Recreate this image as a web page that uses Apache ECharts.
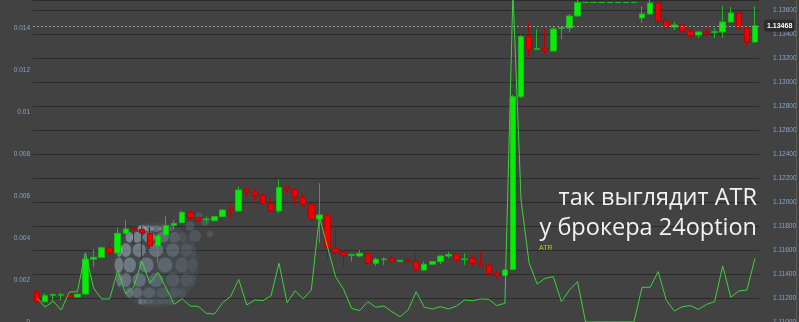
<!DOCTYPE html>
<html>
<head>
<meta charset="utf-8">
<script src="https://cdn.jsdelivr.net/npm/echarts@6/dist/echarts.min.js"></script>
<style>
html,body{margin:0;padding:0;background:#424242;overflow:hidden;}
#c{width:799px;height:322px;}
</style>
</head>
<body>
<div id="c"></div>
<script>
// ---- data ----
const categories = Array.from({length: 90}, (_, i) => String(i + 1));

const opens = [
1.11244, 1.11169, 1.11223, 1.11224, 1.11225, 1.11208, 1.11233, 1.11523, 1.11539, 1.11619,
1.11575, 1.11739, 1.11781, 1.11772, 1.11739, 1.11633, 1.11725, 1.11806, 1.11828, 1.11914,
1.11869, 1.11853, 1.11844, 1.11878, 1.11936, 1.11925, 1.12100, 1.12083, 1.12056, 1.11983,
1.11925, 1.12122, 1.12106, 1.12039, 1.11978, 1.11858, 1.11892, 1.11614, 1.11578, 1.11556,
1.11550, 1.11572, 1.11489, 1.11520, 1.11531, 1.11503, 1.11517, 1.11503, 1.11433, 1.11481,
1.11503, 1.11550, 1.11564, 1.11520, 1.11531, 1.11489, 1.11475, 1.11406, 1.11389, 1.11438,
1.12877, 1.13378, 1.13272, 1.13281, 1.13258, 1.13447, 1.13450, 1.13550, 1.13662, 1.13662,
1.13662, 1.13662, 1.13662, 1.13662, 1.13662, 1.13533, 1.13567, 1.13658, 1.13508, 1.13458,
1.13475, 1.13425, 1.13392, 1.13417, 1.13414, 1.13417, 1.13500, 1.13575, 1.13450, 1.13333
];
const closes = [
1.11169, 1.11219, 1.11228, 1.11227, 1.11206, 1.11231, 1.11523, 1.11539, 1.11619, 1.11573,
1.11739, 1.11775, 1.11767, 1.11744, 1.11633, 1.11719, 1.11803, 1.11822, 1.11914, 1.11869,
1.11844, 1.11858, 1.11878, 1.11933, 1.11925, 1.12100, 1.12083, 1.12056, 1.11989, 1.11928,
1.12122, 1.12106, 1.12039, 1.11978, 1.11858, 1.11892, 1.11619, 1.11581, 1.11553, 1.11561,
1.11572, 1.11489, 1.11523, 1.11525, 1.11503, 1.11514, 1.11503, 1.11433, 1.11481, 1.11503,
1.11550, 1.11561, 1.11517, 1.11525, 1.11489, 1.11475, 1.11406, 1.11386, 1.11433, 1.12877,
1.13378, 1.13272, 1.13277, 1.13261, 1.13442, 1.13452, 1.13550, 1.13663, 1.13663, 1.13663,
1.13663, 1.13663, 1.13663, 1.13663, 1.13663, 1.13567, 1.13658, 1.13508, 1.13458, 1.13475,
1.13425, 1.13383, 1.13417, 1.13413, 1.13418, 1.13500, 1.13575, 1.13450, 1.13333, 1.13468
];
const lows = [
1.11161, 1.11167, 1.11178, 1.11183, 1.11156, 1.11204, 1.11225, 1.11456, 1.11533, 1.11553,
1.11567, 1.11725, 1.11642, 1.11517, 1.11608, 1.11494, 1.11717, 1.11772, 1.11825, 1.11850,
1.11842, 1.11822, 1.11842, 1.11875, 1.11856, 1.11921, 1.12044, 1.12000, 1.11975, 1.11914,
1.11906, 1.12064, 1.11975, 1.11967, 1.11836, 1.11656, 1.11517, 1.11558, 1.11447, 1.11502,
1.11539, 1.11481, 1.11469, 1.11475, 1.11500, 1.11500, 1.11494, 1.11419, 1.11429, 1.11479,
1.11483, 1.11531, 1.11497, 1.11475, 1.11461, 1.11461, 1.11392, 1.11364, 1.11383, 1.11433,
1.12867, 1.13206, 1.13271, 1.13233, 1.13254, 1.13358, 1.13417, 1.13546, 1.13662, 1.13662,
1.13662, 1.13662, 1.13662, 1.13662, 1.13662, 1.13492, 1.13563, 1.13442, 1.13425, 1.13433,
1.13408, 1.13367, 1.13367, 1.13375, 1.13367, 1.13367, 1.13496, 1.13433, 1.13300, 1.13325
];
const highs = [
1.11275, 1.11239, 1.11239, 1.11244, 1.11294, 1.11237, 1.11544, 1.11608, 1.11627, 1.11669,
1.11789, 1.11850, 1.11808, 1.11800, 1.11794, 1.11725, 1.11883, 1.11850, 1.11928, 1.11928,
1.11875, 1.11878, 1.11883, 1.11938, 1.11981, 1.12128, 1.12128, 1.12114, 1.12072, 1.12039,
1.12189, 1.12128, 1.12114, 1.12072, 1.11989, 1.12156, 1.11897, 1.11781, 1.11600, 1.11572,
1.11600, 1.11579, 1.11539, 1.11539, 1.11550, 1.11517, 1.11531, 1.11572, 1.11503, 1.11508,
1.11554, 1.11586, 1.11567, 1.11572, 1.11567, 1.11586, 1.11481, 1.11419, 1.11438, 1.12892,
1.13392, 1.13502, 1.13442, 1.13442, 1.13467, 1.13454, 1.13567, 1.13690, 1.13663, 1.13663,
1.13663, 1.13663, 1.13663, 1.13663, 1.13663, 1.13633, 1.13690, 1.13690, 1.13542, 1.13500,
1.13479, 1.13450, 1.13421, 1.13450, 1.13450, 1.13633, 1.13625, 1.13579, 1.13454, 1.13633
];
const atr = [
0.00114, 0.00071, 0.00099, 0.00057, 0.00143, 0.00144, 0.00330, 0.00162, 0.00110, 0.00110,
0.00245, 0.00133, 0.00167, 0.00290, 0.00184, 0.00236, 0.00162, 0.00084, 0.00110, 0.00076,
0.00074, 0.00041, 0.00038, 0.00092, 0.00121, 0.00203, 0.00081, 0.00105, 0.00102, 0.00124,
0.00280, 0.00092, 0.00149, 0.00110, 0.00152, 0.00501, 0.00359, 0.00216, 0.00156, 0.00065,
0.00054, 0.00097, 0.00070, 0.00076, 0.00049, 0.00025, 0.00057, 0.00144, 0.00070, 0.00062,
0.00073, 0.00062, 0.00076, 0.00105, 0.00101, 0.00110, 0.00108, 0.00078, 0.00089, 0.01571,
0.00581, 0.00281, 0.00181, 0.00208, 0.00216, 0.00097, 0.00152, 0.00192, 0, 0,
0, 0, 0, 0, 0, 0.00165, 0.00165, 0.00240, 0.00105, 0.00052,
0.00073, 0.00078, 0.00060, 0.00084, 0.00097, 0.00267, 0.00118, 0.00148, 0.00152, 0.00303
];
const overlayLines = ['так выглядит ATR', 'у брокера 24option'];
const indicatorName = 'ATR';

// visible axis extents of the reference window
const priceMin = 1.11, priceMax = 1.1368333, priceStep = 0.002;
const atrMin = 0, atrMax = 0.0153333, atrStep = 0.002;

// ---- build ----
const candleData = opens.map((o, i) => [o, closes[i], lows[i], highs[i]]);
const lastClose = closes[closes.length - 1];

// decorative sphere logo (approximation)
const logo = [];
(function () {
  const cx = 156, cy = 265, R = 40;
  logo.push({type: 'circle', shape: {cx: cx, cy: cy, r: R + 3}, style: {fill: 'rgba(85,105,122,0.18)'}, z: 1, silent: true});
  const rad = Math.PI / 180;
  let row = 0;
  for (let lat = -66; lat <= 66; lat += 22, row++) {
    for (let lon = -81 + (row % 2) * 13; lon <= 81; lon += 27) {
      const cl = Math.cos(lat * rad), cn = Math.cos(lon * rad);
      const x = cx + R * cl * Math.sin(lon * rad);
      const y = cy - R * Math.sin(lat * rad);
      const r0 = 7.5 * (0.5 + 0.5 * cl);
      const light = Math.max(0, Math.min(1, 0.5 - (lon + 30) / 140 + 0.3 * (lat / 66)));
      const a = 0.1 + 0.22 * cn * cl + 0.28 * light;
      const c = Math.round(130 + 80 * light);
      logo.push({
        type: 'ellipse',
        shape: {cx: x, cy: y, rx: Math.max(1.5, r0 * (0.3 + 0.7 * cn)), ry: Math.max(1.5, r0 * (0.35 + 0.65 * cl))},
        style: {fill: 'rgba(' + (c - 15) + ',' + (c + 8) + ',' + (c + 25) + ',' + a.toFixed(2) + ')'},
        z: 1, silent: true
      });
    }
  }
  [[195, 236, 6], [205, 222, 4], [199, 216, 3.5], [190, 226, 4.5], [210, 234, 3]].forEach(function (d) {
    logo.push({type: 'circle', shape: {cx: d[0], cy: d[1], r: d[2]}, style: {fill: 'rgba(120,145,165,0.26)'}, z: 1, silent: true});
  });
})();

const chart = echarts.init(document.getElementById('c'), null, {renderer: 'canvas'});
chart.setOption({
  animation: false,
  backgroundColor: '#424242',
  grid: {left: 33, right: 40, top: 0, bottom: 0, containLabel: false, outerBoundsMode: 'none'},
  xAxis: {
    type: 'category', data: categories, boundaryGap: true,
    axisLine: {show: false}, axisTick: {show: false}, axisLabel: {show: false}, splitLine: {show: false}
  },
  yAxis: [
    {
      type: 'value', position: 'right', min: priceMin, max: priceMax, interval: priceStep,
      axisLine: {show: false}, axisTick: {show: false},
      axisLabel: {
        margin: 14, color: '#8aa3c2', fontSize: 6.5, fontFamily: 'Liberation Sans', showMaxLabel: false,
        formatter: function (v) { return v.toFixed(5); }
      },
      splitLine: {show: true, lineStyle: {color: '#2a2a2a', width: 1}}
    },
    {
      type: 'value', position: 'left', min: atrMin, max: atrMax, interval: atrStep,
      axisLine: {show: false}, axisTick: {show: false},
      axisLabel: {margin: 3, color: '#8aa3c2', fontSize: 6.5, fontFamily: 'Liberation Sans', showMaxLabel: false},
      splitLine: {show: false}
    }
  ],
  series: [
    {
      type: 'candlestick', yAxisIndex: 0, data: candleData, barWidth: 6, clip: true, z: 3,
      itemStyle: {color: '#00f000', color0: '#f00000', borderColor: '#1cb81c', borderColor0: '#b80000', borderWidth: 1}
    },
    {
      // carrier for the last-price line (invisible itself)
      type: 'line', yAxisIndex: 0, data: closes, symbol: 'none', silent: true, z: 2,
      lineStyle: {opacity: 0},
      markLine: {
        symbol: 'none', silent: true, precision: 5,
        lineStyle: {color: '#9a9a9a', type: [2, 2], width: 1},
        label: {
          show: true, position: 'end', distance: 5, formatter: lastClose.toFixed(5),
          color: '#ffffff', fontSize: 7, fontWeight: 'bold', fontFamily: 'Liberation Sans',
          backgroundColor: '#2c2c2c', padding: [3, 2, 2, 3], borderRadius: 3
        },
        data: [{yAxis: lastClose}]
      }
    },
    {
      type: 'line', yAxisIndex: 1, data: atr, symbol: 'none', z: 4, clip: true,
      lineStyle: {color: '#3cd23c', width: 1}
    }
  ],
  graphic: logo.concat([
    {type: 'rect', shape: {x: 796, y: 0, width: 1, height: 322}, style: {fill: '#5c5c5c'}, z: 5, silent: true},
    {type: 'text', x: 757, y: 198, z: 100, silent: true,
     style: {text: overlayLines[0], font: '23.5px "Open Sans"', fill: '#f2f2f2', align: 'right', verticalAlign: 'middle'}},
    {type: 'text', x: 757, y: 228, z: 100, silent: true,
     style: {text: overlayLines[1], font: '23.5px "Open Sans"', fill: '#f2f2f2', align: 'right', verticalAlign: 'middle'}},
    {type: 'text', x: 539, y: 248, z: 100, silent: true,
     style: {text: indicatorName, font: '7px "Liberation Sans"', fill: '#b4cc1e', align: 'left', verticalAlign: 'middle'}}
  ])
});
</script>
</body>
</html>
